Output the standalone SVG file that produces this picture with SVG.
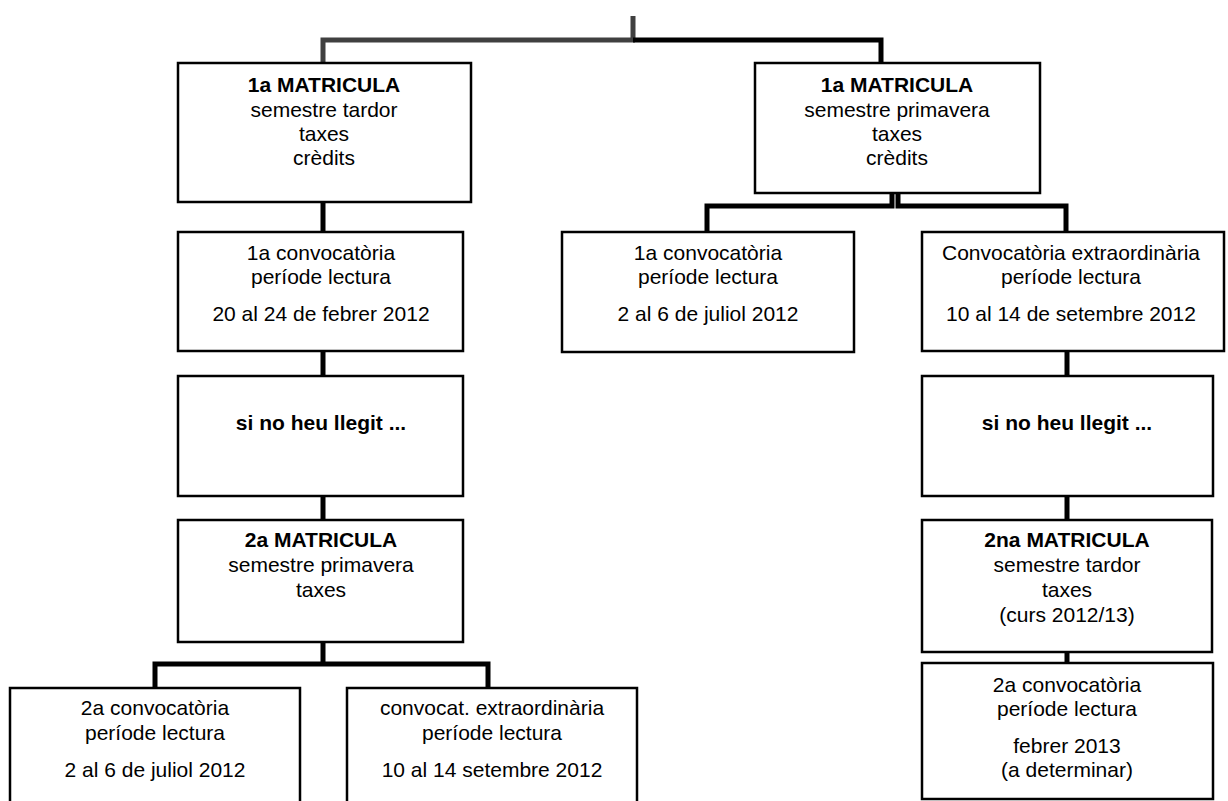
<svg xmlns="http://www.w3.org/2000/svg" width="1228" height="801" viewBox="0 0 1228 801">
<style>
.box{fill:#fff;stroke:#000;stroke-width:2.5}
.c{fill:none;stroke:#000;stroke-width:5;stroke-linejoin:miter;stroke-linecap:butt}
.g{stroke:#404040}
text{font-family:"Liberation Sans",Arial,sans-serif;font-size:21px;fill:#000;text-anchor:middle}
.b{font-weight:bold}
</style>
<rect width="1228" height="801" fill="#fff"/>
<g id="connectors">
<path class="c g" d="M633,16 V40 M635,40 H323 V63"/>
<path class="c" d="M633,40 H881 V63"/>
<path class="c" d="M892,193 V206 H707 V232"/>
<path class="c" d="M898,193 V206 H1066 V232"/>
<path class="c" d="M323,202 V232 M323,351 V376 M323,496 V520 M323,642 V664"/>
<path class="c" d="M323,664 H155 V688 M323,664 H488 V688"/>
<path class="c" d="M1067,351 V376 M1067,496 V520 M1067,652 V663"/>
</g>
<g id="n1">
<rect class="box" x="178" y="63" width="293" height="139"/>
<text x="324" y="92" class="b">1a MATRICULA</text>
<text x="324" y="117">semestre tardor</text>
<text x="324" y="141">taxes</text>
<text x="324" y="165">crèdits</text>
</g>
<g id="n2">
<rect class="box" x="755" y="63" width="285" height="130"/>
<text x="897" y="92" class="b">1a MATRICULA</text>
<text x="897" y="117">semestre primavera</text>
<text x="897" y="141">taxes</text>
<text x="897" y="165">crèdits</text>
</g>
<g id="n3">
<rect class="box" x="178" y="232" width="285" height="119"/>
<text x="321" y="260">1a convocatòria</text>
<text x="321" y="284">període lectura</text>
<text x="321" y="321">20 al 24 de febrer 2012</text>
</g>
<g id="n4">
<rect class="box" x="562" y="232" width="292" height="120"/>
<text x="708" y="260">1a convocatòria</text>
<text x="708" y="284">període lectura</text>
<text x="708" y="321">2 al 6 de juliol 2012</text>
</g>
<g id="n5">
<rect class="box" x="922" y="232" width="302" height="119"/>
<text x="1071" y="260">Convocatòria extraordinària</text>
<text x="1071" y="284">període lectura</text>
<text x="1071" y="321">10 al 14 de setembre 2012</text>
</g>
<g id="n6">
<rect class="box" x="178" y="376" width="285" height="120"/>
<text x="321" y="430" class="b">si no heu llegit ...</text>
</g>
<g id="n7">
<rect class="box" x="922" y="376" width="291" height="120"/>
<text x="1067" y="430" class="b">si no heu llegit ...</text>
</g>
<g id="n8">
<rect class="box" x="178" y="520" width="285" height="122"/>
<text x="321" y="547" class="b">2a MATRICULA</text>
<text x="321" y="572">semestre primavera</text>
<text x="321" y="597">taxes</text>
</g>
<g id="n9">
<rect class="box" x="922" y="520" width="290" height="132"/>
<text x="1067" y="547" class="b">2na MATRICULA</text>
<text x="1067" y="572">semestre tardor</text>
<text x="1067" y="597">taxes</text>
<text x="1067" y="622">(curs 2012/13)</text>
</g>
<g id="n10">
<rect class="box" x="922" y="663" width="291" height="136"/>
<text x="1067" y="692">2a convocatòria</text>
<text x="1067" y="716">període lectura</text>
<text x="1067" y="753">febrer 2013</text>
<text x="1067" y="777">(a determinar)</text>
</g>
<g id="n11">
<rect class="box" x="10" y="688" width="290" height="130"/>
<text x="155" y="715">2a convocatòria</text>
<text x="155" y="740">període lectura</text>
<text x="155" y="777">2 al 6 de juliol 2012</text>
</g>
<g id="n12">
<rect class="box" x="347" y="688" width="290" height="130"/>
<text x="492" y="715">convocat. extraordinària</text>
<text x="492" y="740">període lectura</text>
<text x="492" y="777">10 al 14 setembre 2012</text>
</g>
</svg>
